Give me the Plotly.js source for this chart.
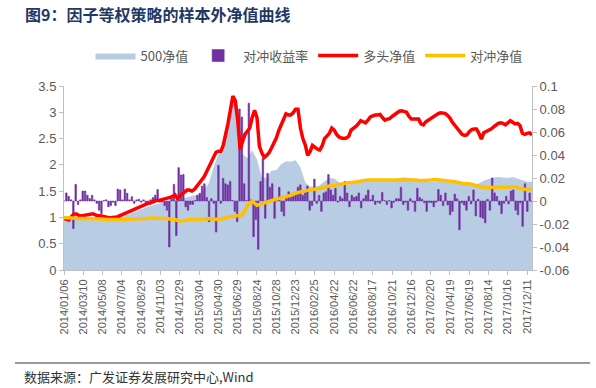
<!DOCTYPE html>
<html>
<head>
<meta charset="utf-8">
<script src="https://cdn.plot.ly/plotly-3.0.1.min.js"></script>
<style>html,body{margin:0;padding:0;background:#fff;}#chart{width:596px;height:388px;}</style>
</head>
<body>
<div id="chart"></div>
<script>
// ---- Data ----
// x axis: trading-day index; a date label every 40 trading days
const dateLabels = ['2014/01/06','2014/03/10','2014/05/08','2014/07/04','2014/08/29','2014/11/03','2014/12/29',
  '2015/03/04','2015/04/30','2015/06/29','2015/08/24','2015/10/28','2015/12/23',
  '2016/02/25','2016/04/22','2016/06/22','2016/08/17','2016/10/21','2016/12/16',
  '2017/02/20','2017/04/19','2017/06/19','2017/08/14','2017/10/16','2017/12/11'];
const tickStepDays = 40;
const totalDays = 970;

const leftTickVals = [0, 0.5, 1, 1.5, 2, 2.5, 3, 3.5];
const leftTickText = ['0', '0.5', '1', '1.5', '2', '2.5', '3', '3.5'];
const rightTickVals = [-0.06, -0.04, -0.02, 0, 0.02, 0.04, 0.06, 0.08, 0.1];
const rightTickText = ['-0.06', '-0.04', '-0.02', '0', '0.02', '0.04', '0.06', '0.08', '0.1'];

// 500净值 (every two weeks)
const csi500Nav = [
  1.00,0.98,0.97,1.00,1.02,1.01,1.00,0.98,0.97,0.96,
  0.96,0.97,1.00,1.04,1.08,1.12,1.15,1.19,1.22,1.25,
  1.27,1.29,1.32,1.33,1.33,1.37,1.40,1.42,1.43,1.52,
  1.65,1.95,2.20,2.45,2.80,3.18,3.05,2.20,2.13,2.28,
  2.10,1.76,1.75,1.89,1.90,2.01,2.07,2.06,2.09,1.95,
  1.67,1.59,1.58,1.61,1.69,1.75,1.74,1.67,1.65,1.62,
  1.66,1.70,1.72,1.72,1.72,1.71,1.71,1.72,1.72,1.74,
  1.76,1.76,1.74,1.71,1.69,1.68,1.68,1.68,1.69,1.70,
  1.69,1.68,1.65,1.62,1.61,1.60,1.65,1.70,1.73,1.76,
  1.77,1.76,1.75,1.77,1.74,1.70,1.68,1.68];

// 对冲收益率 (weekly)
const hedgeReturn = [
  0,0.007,0.004,0.001,-0.024,0.0145,-0.003,0.001,0.0087,0.0087,
  0.005,0.002,0.005,0.001,-0.002,-0.008,-0.011,0.0005,0.001,-0.005,
  -0.004,-0.001,-0.004,0.0104,0.0096,0.001,0.0104,0.0067,0.001,0.0038,
  -0.002,0.001,0.0015,-0.001,0.001,-0.003,-0.001,0.001,0.003,0.005,
  0.010,-0.001,-0.001,-0.004,-0.008,-0.040,0.002,0.0145,-0.030,
  0.029,0.0226,0.023,-0.005,-0.008,-0.003,-0.003,0.0005,0.005,0.0067,
  0.013,0.015,0.003,-0.018,0.002,-0.002,-0.027,0.031,-0.002,0.0197,
  0.015,0.014,0.017,0.0005,-0.009,-0.018,0.080,0.073,0.015,0.0005,
  0.085,0.001,-0.031,-0.016,-0.042,0.017,0.037,-0.015,0.024,0.012,
  0.015,-0.015,0.001,0.012,-0.009,-0.013,0.004,0.008,0.005,0.004,
  0.007,0.012,
  0.014,0.005,0.007,0.013,-0.008,-0.004,0.019,-0.002,0.005,-0.009,
  0.007,0.008,0.023,0.0096,0.005,0.011,-0.001,0.004,0.002,0.017,
  0.007,-0.005,0.005,0.003,0.004,0.007,-0.006,0.002,0.005,0.0096,
  0.001,0.005,-0.003,-0.001,-0.002,0.0075,0.0003,-0.003,0.0003,-0.006,
  -0.001,0.002,0.002,0.012,-0.003,-0.001,-0.008,0.002,-0.001,-0.009,0.011,
  0.003,0.0015,-0.0015,-0.009,-0.001,-0.0015,-0.005,-0.001,0.010,0.005,
  -0.004,0.007,-0.0035,-0.012,-0.009,0.006,0.002,-0.025,-0.0015,-0.0035,
  -0.008,0.004,-0.0025,0.0096,-0.013,0.0015,-0.014,-0.015,-0.019,0.0015,
  -0.008,0.020,0.007,0.004,-0.0035,-0.011,-0.002,0.004,-0.0025,0.0087,
  0.0096,-0.008,-0.012,-0.0015,-0.022,0.015,-0.009,0.007,-0.0005];

// 多头净值 (weekly)
const longNav = [
  0.98,0.96,0.95,1.01,1.06,1.07,1.04,1.03,1.04,1.05,
  1.06,1.06,1.07,1.05,1.03,1.03,1.02,1.01,1.00,0.99,
  1.00,1.00,1.01,1.03,1.05,1.07,1.09,1.11,1.13,1.15,
  1.17,1.20,1.22,1.24,1.25,1.27,1.28,1.30,1.32,1.32,
  1.33,1.34,1.35,1.37,1.38,1.40,1.43,1.36,1.41,1.45,
  1.48,1.52,1.52,1.50,1.53,1.59,1.65,1.71,1.77,1.86,
  1.95,2.03,2.12,2.24,2.26,2.26,2.37,2.56,2.79,3.05,
  3.31,3.22,2.85,2.30,2.42,2.58,2.64,2.70,2.90,3.04,
  2.90,2.35,2.23,2.14,2.18,2.23,2.32,2.41,2.51,2.65,
  2.76,2.87,2.97,2.95,2.95,2.99,3.06,3.06,2.70,2.50,
  2.38,2.18,2.25,2.37,2.33,2.30,2.28,2.36,2.50,2.56,
  2.60,2.70,2.66,2.58,2.53,2.51,2.50,2.51,2.54,2.66,
  2.69,2.73,2.78,2.84,2.82,2.80,2.85,2.91,2.93,2.95,
  2.95,2.96,2.90,2.85,2.87,2.88,2.92,2.95,2.98,3.02,
  3.03,3.02,3.00,2.92,2.87,2.87,2.87,2.87,2.78,2.76,
  2.82,2.85,2.88,2.92,2.95,2.97,2.99,2.99,2.98,2.94,
  2.89,2.81,2.75,2.68,2.62,2.58,2.56,2.57,2.63,2.67,
  2.68,2.68,2.60,2.49,2.61,2.63,2.65,2.68,2.72,2.76,
  2.79,2.80,2.79,2.76,2.80,2.84,2.81,2.78,2.79,2.75,
  2.60,2.58,2.60,2.61,2.57];

// 对冲净值 (every two weeks)
const hedgeNav = [
  1.00,0.99,0.99,0.98,0.98,0.98,0.98,0.98,0.97,0.96,
  0.96,0.95,0.96,0.96,0.97,0.97,0.98,0.98,0.99,0.99,
  0.99,0.98,0.97,0.96,0.93,0.95,0.96,0.96,0.96,0.97,
  0.98,0.97,0.96,0.98,1.01,1.02,1.04,1.05,1.22,1.31,
  1.23,1.26,1.30,1.33,1.35,1.37,1.39,1.42,1.46,1.49,
  1.51,1.52,1.53,1.55,1.57,1.60,1.61,1.63,1.64,1.66,
  1.67,1.69,1.70,1.71,1.71,1.71,1.71,1.71,1.72,1.72,
  1.72,1.72,1.72,1.71,1.70,1.70,1.71,1.72,1.71,1.71,
  1.69,1.68,1.66,1.64,1.64,1.62,1.60,1.57,1.57,1.58,
  1.58,1.57,1.58,1.59,1.57,1.54,1.53,1.55];

// ---- Build ----
const spread = (n) => Array.from({length: n}, (_, i) => i * totalDays / (n - 1));
const tickVals = dateLabels.map((_, i) => i * tickStepDays);

const axisColor = '#BFBFBF';
const labelColor = '#595959';
const latin = 'Liberation Sans, Arial, sans-serif';
const cjk = 'Noto Sans CJK SC, sans-serif';

const traces = [
  {type: 'scatter', mode: 'lines', name: '500净值', x: spread(csi500Nav.length), y: csi500Nav,
   fill: 'tozeroy', fillcolor: '#B8CCE4', line: {width: 0, color: '#B8CCE4'}, yaxis: 'y', hoverinfo: 'skip'},
  {type: 'bar', name: '对冲收益率', x: spread(hedgeReturn.length), y: hedgeReturn, yaxis: 'y2',
   marker: {color: '#7030A0', line: {color: '#7030A0', width: 0.6}}},
  {type: 'scatter', mode: 'lines', name: '多头净值', x: spread(longNav.length), y: longNav, yaxis: 'y3',
   line: {color: '#FF0000', width: 3.5}},
  {type: 'scatter', mode: 'lines', name: '对冲净值', x: spread(hedgeNav.length), y: hedgeNav, yaxis: 'y3',
   line: {color: '#FFC000', width: 3.5}}
];

const layout = {
  width: 596, height: 388,
  margin: {l: 64, r: 64, t: 86, b: 118},
  paper_bgcolor: '#ffffff', plot_bgcolor: '#ffffff',
  showlegend: true,
  bargap: 0.35,
  title: {text: '图9：因子等权策略的样本外净值曲线', xref: 'container', yref: 'container',
          x: 0.042, xanchor: 'left', y: 0.961, yanchor: 'middle',
          font: {family: cjk, size: 16, color: '#1F3864', weight: 'bold'}},
  legend: {orientation: 'h', x: 0.5235, xanchor: 'center', y: 1.165, yanchor: 'middle',
           itemwidth: 40,
           font: {family: cjk, size: 13, color: labelColor}, bgcolor: 'rgba(0,0,0,0)'},
  xaxis: {range: [0, totalDays], tickmode: 'array', tickvals: tickVals, ticktext: dateLabels,
          tickangle: -90, ticks: 'outside', ticklen: 4, tickcolor: axisColor,
          showline: true, linecolor: axisColor, linewidth: 1, showgrid: false, zeroline: false,
          tickfont: {family: latin, size: 11, color: labelColor}},
  yaxis: {range: [0, 3.5], tickmode: 'array', tickvals: leftTickVals, ticktext: leftTickText,
          ticks: 'outside', ticklen: 4, tickcolor: axisColor, showline: true, linecolor: axisColor,
          showgrid: false, zeroline: false, tickfont: {family: latin, size: 13, color: labelColor}},
  yaxis2: {overlaying: 'y', side: 'right', range: [-0.06, 0.1], tickmode: 'array',
           tickvals: rightTickVals, ticktext: rightTickText, ticks: 'outside', ticklen: 4,
           tickcolor: axisColor, showline: true, linecolor: axisColor, showgrid: false, zeroline: false,
           tickfont: {family: latin, size: 13, color: labelColor}},
  yaxis3: {overlaying: 'y', range: [0, 3.5], visible: false},
  shapes: [{type: 'line', xref: 'paper', yref: 'paper', x0: -0.1047, x1: 1.124, y0: -0.5054, y1: -0.5054,
            line: {color: '#000000', width: 0.8}}],
  annotations: [{text: '数据来源：广发证券发展研究中心,Wind', xref: 'paper', yref: 'paper',
                 x: -0.0897, y: -0.5815, xanchor: 'left', yanchor: 'middle', showarrow: false,
                 font: {family: cjk, size: 13, color: '#333333'}}]
};

Plotly.newPlot('chart', traces, layout, {displayModeBar: false, staticPlot: true});
</script>
</body>
</html>
